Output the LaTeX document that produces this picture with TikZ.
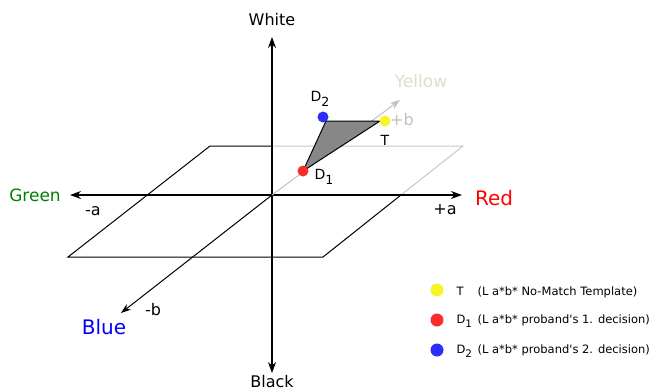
\documentclass[tikz,border=0pt]{standalone}
\usepackage{fontspec}
\setmainfont{DejaVu Sans}[Ligatures=TeXOff]
\usetikzlibrary{arrows.meta, positioning}
\newcommand{\lowsub}[1]{\raisebox{-0.6ex}{\scalebox{0.9}{#1}}}
\definecolor{paleyellow}{RGB}{222,222,196}
\definecolor{dotyellow}{RGB}{245,245,40}
\definecolor{dotred}{RGB}{250,45,45}
\definecolor{dotblue}{RGB}{45,45,250}

\begin{document}
\begin{tikzpicture}[x=1pt, y=-1pt,
    axis/.style={-{Stealth[length=11pt, width=8pt]}, line width=1.2pt},
    diag/.style={-{Stealth[length=10pt, width=7pt]}, line width=1pt},
    edge/.style={line width=1pt},
    ghost/.style={line width=1pt, black!22},
    tri/.style={fill=black!47, draw=black, line width=1pt, line join=round},
    dot/.style={circle, inner sep=0pt, minimum size=11pt},
    bigdot/.style={circle, inner sep=0pt, minimum size=13pt},
    axlabel/.style={font=\fontsize{16}{18}\selectfont},
    ptlabel/.style={font=\fontsize{14}{16}\selectfont},
    legend/.style={anchor=west, font=\fontsize{11.5}{13}\selectfont}
]
\useasboundingbox (0,0) rectangle (655,391);

% Axis ends
\coordinate (o) at (272,195);
\coordinate (top) at (272,37);
\coordinate (bot) at (272,373);
\coordinate (left) at (70,195);
\coordinate (right) at (462,195);
\coordinate (front) at (121,313);
\coordinate (back) at (400,100);

% Plane corners
\coordinate (p1) at (210,146);
\coordinate (p2) at (463,146);
\coordinate (p3) at (323,257);
\coordinate (p4) at (68,257);
\coordinate (ptop) at (272,146);
\coordinate (pcut) at (401,195);

% Plane
\draw[ghost] (pcut) -- (p2) -- (ptop);
\draw[edge] (ptop) -- (p1) -- (p4) -- (p3) -- (pcut);

% Axes
\draw[axis] (o) -- (top);
\draw[axis] (o) -- (bot);
\draw[axis] (o) -- (left);
\draw[axis] (o) -- (right);
\draw[diag] (o) -- (front);
\draw[diag, black!25] (o) -- (back);

% Axis labels
\node[axlabel] (white) at (272,20) {White};
\node[axlabel] (black) at (272,382) {Black};
\node[axlabel, text=green!50!black, font=\fontsize{17}{19}\selectfont] (green) at (35,195) {Green};
\node[axlabel, text=red, font=\fontsize{20}{22}\selectfont] (red) at (494,198) {Red};
\node[axlabel, text=blue, font=\fontsize{20}{22}\selectfont] (blue) at (104,327) {Blue};
\node[axlabel, text=paleyellow, font=\fontsize{17}{19}\selectfont] (yellow) at (421,81) {Yellow};
\node[axlabel] (mina) at (93,211) {-a};
\node[axlabel] (plusa) at (445,210) {+a};
\node[axlabel] (minb) at (153,310) {-b};
\node[axlabel, text=black!25] (plusb) at (402,120) {+b};

% Points
\coordinate (pD1) at (303,171);
\coordinate (pD2) at (323,117);
\coordinate (pT) at (385,121);
\filldraw[tri] (pD1) -- ([shift={(3,4)}]pD2) -- ([xshift=-5]pT) -- cycle;
\node[dot, fill=dotred] (d1) at (pD1) {};
\node[dot, fill=dotblue] (d2) at (pD2) {};
\node[dot, fill=dotyellow] (t) at (pT) {};
\node[ptlabel] (d2lab) at (320,99) {D\lowsub{2}};
\node[ptlabel] (d1lab) at (324,177) {D\lowsub{1}};
\node[ptlabel] (tlab) at (385,140) {T};

% Legend
\node[bigdot, fill=dotyellow] (ly) at (437,290) {};
\node[bigdot, fill=dotred] (lr) at (437,320) {};
\node[bigdot, fill=dotblue] (lb) at (437,350) {};
\node[legend] (ty) at (453,292) {\makebox[21pt][l]{T}(L a*b* No-Match Template)};
\node[legend] (tr) at (453,321) {\makebox[21pt][l]{D\lowsub{1}}(L a*b* proband's 1. decision)};
\node[legend] (tb) at (453,351) {\makebox[21pt][l]{D\lowsub{2}}(L a*b* proband's 2. decision)};

\end{tikzpicture}
\end{document}
